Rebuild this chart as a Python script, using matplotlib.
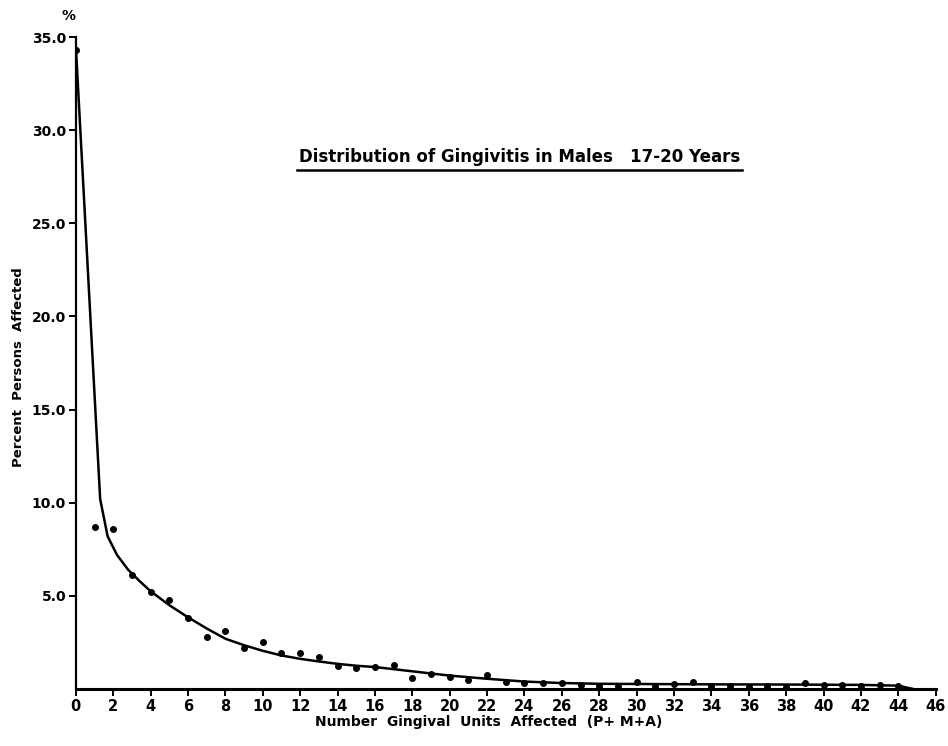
import matplotlib
matplotlib.use("Agg")
import matplotlib.pyplot as plt

# Observed data points (percent of persons by number of gingival units affected)
units = list(range(0, 45))
percent = [34.3, 8.7, 8.6, 6.1, 5.2, 4.8, 3.8, 2.8, 3.1, 2.2,
           2.5, 1.95, 1.95, 1.7, 1.25, 1.15, 1.2, 1.27, 0.6, 0.82,
           0.64, 0.46, 0.75, 0.36, 0.3, 0.34, 0.3, 0.2, 0.16, 0.18,
           0.4, 0.15, 0.25, 0.36, 0.18, 0.15, 0.12, 0.15, 0.12, 0.34,
           0.2, 0.2, 0.18, 0.2, 0.15]

# Fitted curve (hand-drawn in the original)
curve_x = [0, 1.3, 1.7, 2.2, 2.8, 3.4, 4.0, 5.0, 6.0, 7.0, 8.0, 9.0, 10.0, 11.0,
           12.0, 13.0, 14.0, 15.0, 16.0, 18.0, 20.0, 22.0, 24.0, 26.0, 28.0,
           30.0, 34.0, 38.0, 42.0, 44.0, 44.8]
curve_y = [34.5, 10.2, 8.2, 7.2, 6.4, 5.8, 5.25, 4.5, 3.85, 3.25, 2.7, 2.35, 2.05, 1.8,
           1.62, 1.48, 1.35, 1.25, 1.18, 0.95, 0.72, 0.55, 0.4, 0.32, 0.28,
           0.27, 0.25, 0.24, 0.22, 0.18, 0.0]

x_ticks = list(range(0, 47, 2))
y_ticks = [5, 10, 15, 20, 25, 30, 35]
y_ticklabels = ["5.0", "10.0", "15.0", "20.0", "25.0", "30.0", "35.0"]

title = "Distribution of Gingivitis in Males   17-20 Years"
xlabel = "Number  Gingival  Units  Affected  (P+ M+A)"
ylabel = "Percent  Persons  Affected"

fig = plt.figure(figsize=(9.48, 7.46), dpi=100)
ax = fig.add_axes([0.080, 0.0764, 0.907, 0.874])

ax.plot(curve_x, curve_y, color="black", lw=1.8, solid_joinstyle="round")
ax.plot(units, percent, "o", color="black", markersize=4)

ax.set_xlim(0, 46)
ax.set_ylim(0, 35)
ax.spines["top"].set_visible(False)
ax.spines["right"].set_visible(False)
ax.spines["left"].set_linewidth(1.6)
ax.spines["bottom"].set_linewidth(2.2)

ax.set_xticks(x_ticks)
ax.set_xticklabels([str(t) for t in x_ticks], fontsize=10.5, fontweight="bold")
ax.set_yticks(y_ticks)
ax.set_yticklabels(y_ticklabels, fontsize=10, fontweight="bold")
ax.tick_params(axis="both", direction="out", length=5, width=1.4, pad=2)

fig.text(0.019, 0.508, ylabel, rotation=90, ha="center", va="center",
         fontsize=9.5, fontweight="bold")
fig.text(0.515, 0.032, xlabel, ha="center", va="center",
         fontsize=10, fontweight="bold")
fig.text(0.072, 0.978, "%", ha="center", va="center", fontsize=10, fontweight="bold")

fig.text(0.548, 0.789, title, ha="center", va="center", fontsize=12,
         fontweight="bold")
fig.add_artist(plt.Line2D([0.313, 0.783], [0.772, 0.772], color="black", lw=1.8,
                          transform=fig.transFigure))

fig.savefig("out.png", dpi=100)
